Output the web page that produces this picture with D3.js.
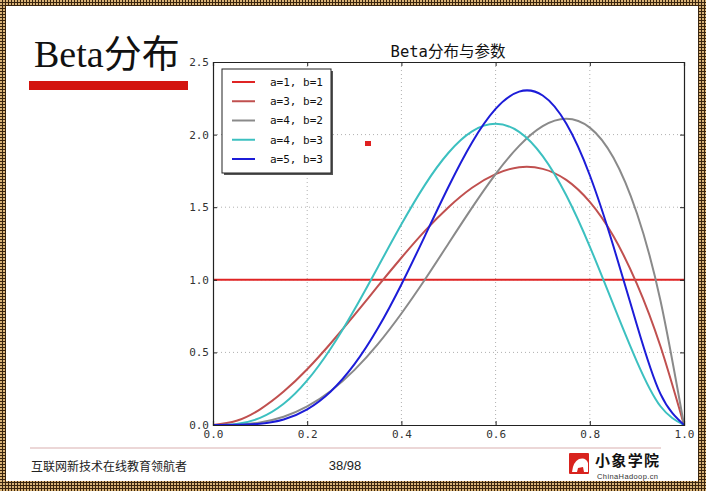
<!DOCTYPE html>
<html>
<head>
<meta charset="utf-8">
<script src="https://cdn.jsdelivr.net/npm/d3@7"></script>
<style>
  html, body { margin: 0; padding: 0; background: #fff; }
  svg { display: block; }
</style>
</head>
<body>
<svg id="chart" width="706" height="491"></svg>
<script>
// ---- data ----
const xs = [0, 0.05, 0.1, 0.15, 0.2, 0.25, 0.3, 0.35, 0.4, 0.45, 0.5, 0.55, 0.6, 0.65, 0.7, 0.75, 0.8, 0.85, 0.9, 0.95, 1.0];
const seriesNames = ["a=1, b=1", "a=3, b=2", "a=4, b=2", "a=4, b=3", "a=5, b=3"];
const seriesColors = ["#e02424", "#c0504f", "#8a8a8a", "#3cc0c0", "#1c1cd8"];
const a1b1 = [1, 1, 1, 1, 1, 1, 1, 1, 1, 1, 1, 1, 1, 1, 1, 1, 1, 1, 1, 1, 1];
const a3b2 = [0, 0.029, 0.108, 0.230, 0.384, 0.563, 0.756, 0.956, 1.152, 1.337, 1.500, 1.634, 1.728, 1.775, 1.764, 1.688, 1.536, 1.301, 0.972, 0.542, 0];
const a4b2 = [0, 0.002, 0.018, 0.057, 0.128, 0.234, 0.378, 0.557, 0.768, 1.002, 1.250, 1.497, 1.728, 1.922, 2.058, 2.109, 2.048, 1.842, 1.458, 0.857, 0];
const a4b3 = [0, 0.007, 0.049, 0.146, 0.307, 0.527, 0.794, 1.087, 1.382, 1.654, 1.875, 2.022, 2.074, 2.019, 1.852, 1.582, 1.229, 0.829, 0.437, 0.129, 0];
const a5b3 = [0, 0.001, 0.009, 0.038, 0.108, 0.231, 0.417, 0.666, 0.968, 1.303, 1.641, 1.946, 2.177, 2.296, 2.269, 2.076, 1.720, 1.233, 0.689, 0.214, 0];
const seriesValues = [a1b1, a3b2, a4b2, a4b3, a5b3];
const xTicks = [0, 0.2, 0.4, 0.6, 0.8, 1.0];
const yTicks = [0, 0.5, 1.0, 1.5, 2.0, 2.5];
const chartTitle = "Beta分布与参数";
const slideTitle = "Beta分布";
const footerText = "互联网新技术在线教育领航者";
const pageText = "38/98";

const svg = d3.select("#chart");
const W = 706, H = 491;

// ---- slide border (checker pattern) ----
const defs = svg.append("defs");
const pat = defs.append("pattern").attr("id", "chk").attr("patternUnits", "userSpaceOnUse")
  .attr("width", 3).attr("height", 3);
pat.append("rect").attr("width", 3).attr("height", 3).attr("fill", "#3a250f");
pat.append("rect").attr("width", 2).attr("height", 2).attr("fill", "#d9b377");
svg.append("rect").attr("width", W).attr("height", H).attr("fill", "url(#chk)");
svg.append("rect").attr("x", 6).attr("y", 6).attr("width", 692).attr("height", 475).attr("fill", "#fff");

// ---- slide title ----
svg.append("text").attr("x", 34).attr("y", 67)
  .attr("font-family", "'Liberation Serif', 'Noto Sans CJK SC', serif")
  .attr("font-size", 38).attr("fill", "#111").text(slideTitle);
svg.append("rect").attr("x", 29).attr("y", 81).attr("width", 159).attr("height", 9).attr("fill", "#d3140f");

// ---- plot ----
const m = { left: 213, right: 684, top: 62, bottom: 425 };
const x = d3.scaleLinear().domain([0, 1]).range([m.left, m.right]);
const y = d3.scaleLinear().domain([0, 2.5]).range([m.bottom, m.top]);

const g = svg.append("g");
// grid
g.append("g").selectAll("line").data(xTicks.slice(1, -1)).join("line")
  .attr("x1", d => x(d)).attr("x2", d => x(d)).attr("y1", m.top).attr("y2", m.bottom)
  .attr("stroke", "#b0b0b0").attr("stroke-width", 1).attr("stroke-dasharray", "1,3");
g.append("g").selectAll("line").data(yTicks.slice(1, -1)).join("line")
  .attr("x1", m.left).attr("x2", m.right).attr("y1", d => y(d)).attr("y2", d => y(d))
  .attr("stroke", "#b0b0b0").attr("stroke-width", 1).attr("stroke-dasharray", "1,3");

// curves
const line = d3.line().x((d, i) => x(xs[i])).y(d => y(d)).curve(d3.curveNatural);
const plot = g.append("g");
plot.selectAll("path").data(seriesValues).join("path")
  .attr("d", d => line(d)).attr("fill", "none")
  .attr("stroke", (d, i) => seriesColors[i]).attr("stroke-width", 2);

// frame + axes
const fmt = d3.format(".1f");
const tickFont = "'DejaVu Sans Mono', monospace";
const xAxisB = d3.axisBottom(x).tickValues(xTicks).tickFormat(fmt).tickSize(-4).tickPadding(8);
const xAxisT = d3.axisTop(x).tickValues(xTicks).tickFormat("").tickSize(-4);
const yAxisL = d3.axisLeft(y).tickValues(yTicks).tickFormat(fmt).tickSize(-4).tickPadding(4);
const yAxisR = d3.axisRight(y).tickValues(yTicks).tickFormat("").tickSize(-4);
function styleAxis(sel) {
  sel.select(".domain").attr("stroke", "#222").attr("stroke-width", 1.2);
  sel.selectAll(".tick line").attr("stroke", "#222");
  sel.selectAll(".tick text").attr("font-family", tickFont).attr("font-size", 11).attr("fill", "#333");
}
g.append("g").attr("transform", `translate(0,${m.bottom})`).call(xAxisB).call(styleAxis)
  .selectAll(".tick text").attr("dy", "0.45em");
g.append("g").attr("transform", `translate(0,${m.top})`).call(xAxisT).call(styleAxis);
g.append("g").attr("transform", `translate(${m.left},0)`).call(yAxisL).call(styleAxis);
g.append("g").attr("transform", `translate(${m.right},0)`).call(yAxisR).call(styleAxis);
g.selectAll(".domain").attr("stroke", "#222");

// chart title
svg.append("text").attr("x", 448).attr("y", 57).attr("text-anchor", "middle")
  .attr("font-family", "'DejaVu Sans Mono', 'Noto Sans CJK SC', monospace")
  .attr("font-size", 15.5).attr("fill", "#111").text(chartTitle);

// legend
const lg = svg.append("g");
lg.append("rect").attr("x", 224).attr("y", 71).attr("width", 109).attr("height", 104).attr("fill", "#555");
lg.append("rect").attr("x", 222).attr("y", 69).attr("width", 109).attr("height", 104)
  .attr("fill", "#fff").attr("stroke", "#222").attr("stroke-width", 1);
const rowY = d3.scaleLinear().domain([0, 4]).range([82, 159]);
const rows = lg.selectAll("g.row").data(seriesNames).join("g").attr("class", "row")
  .attr("transform", (d, i) => `translate(0,${rowY(i)})`);
rows.append("line").attr("x1", 232).attr("x2", 255).attr("y1", 0).attr("y2", 0)
  .attr("stroke", (d, i) => seriesColors[i]).attr("stroke-width", 2);
rows.append("text").attr("x", 270).attr("y", 0).attr("dy", "0.35em")
  .attr("font-family", tickFont).attr("font-size", 11).attr("fill", "#111").text(d => d);

// stray red marker
svg.append("rect").attr("x", 365).attr("y", 141).attr("width", 6).attr("height", 5).attr("fill", "#e02020");

// ---- footer ----
svg.append("line").attr("x1", 30).attr("x2", 661).attr("y1", 448).attr("y2", 448)
  .attr("stroke", "#e6caca").attr("stroke-width", 1.5);
svg.append("text").attr("x", 31).attr("y", 471)
  .attr("font-family", "'Noto Sans CJK SC', sans-serif").attr("font-size", 12).attr("fill", "#222").text(footerText);
svg.append("text").attr("x", 345).attr("y", 470).attr("text-anchor", "middle")
  .attr("font-family", "'Liberation Sans', Arial, sans-serif").attr("font-size", 13).attr("fill", "#222").text(pageText);

// logo
const logo = svg.append("g");
logo.append("rect").attr("x", 569).attr("y", 453).attr("width", 20).attr("height", 21).attr("fill", "#d8231e").attr("rx", 1);
logo.append("path").attr("d", "M572,472 Q573,462 579,459 Q586,457 588,463 L588,472 L584,472 L583,467 L578,468 L577,472 Z").attr("fill", "#fff");
logo.append("text").attr("x", 595).attr("y", 466)
  .attr("font-family", "'Noto Sans CJK SC', sans-serif").attr("font-weight", "bold")
  .attr("font-size", 15).attr("fill", "#111").attr("textLength", 64).text("小象学院");
logo.append("text").attr("x", 597).attr("y", 479)
  .attr("font-family", "'Liberation Sans', Arial, sans-serif").attr("font-size", 7.5)
  .attr("fill", "#333").attr("textLength", 61).text("ChinaHadoop.cn");
</script>
</body>
</html>
